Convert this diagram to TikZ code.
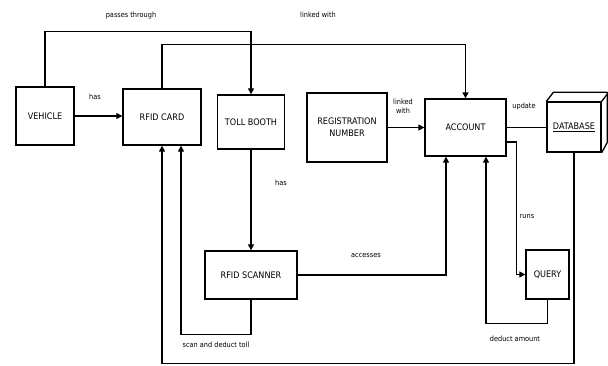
\documentclass[tikz,border=0pt]{standalone}
\usepackage{fontspec}
\setmainfont{DejaVu Sans Condensed}
\usetikzlibrary{arrows.meta}
\begin{document}
\begin{tikzpicture}[x=1pt,y=-1pt,
  box/.style={draw, line width=1.3pt, inner sep=0pt, align=center, font=\fontsize{9}{12}\selectfont},
  lbl/.style={font=\fontsize{7.3}{8.5}\selectfont, inner sep=0pt, align=center},
  con/.style={line width=1.1pt},
  arr/.style={con, -{Triangle[length=6pt,width=6pt]}}]
\useasboundingbox (0,0) rectangle (608,366);
% nodes
\node[box, minimum width=58pt, minimum height=58pt] (veh) at (45,116) {VEHICLE};
\node[box, minimum width=78pt, minimum height=56pt] (card) at (162,117) {RFID CARD};
\node[box, minimum width=67pt, minimum height=54pt] (toll) at (251,122) {TOLL BOOTH};
\node[box, minimum width=80pt, minimum height=69pt] (reg) at (347,127.5) {REGISTRATION\\NUMBER};
\node[box, minimum width=81pt, minimum height=57pt] (acc) at (465.5,127.5) {ACCOUNT};
\node[box, minimum width=54pt, minimum height=50pt] (db) at (574,127) {\underline{DATABASE}};
\draw[line width=1.3pt, line join=round] (db.north west) -- ++(7,-9) -- ++(54,0) -- ++(0,50) -- (db.south east);
\draw[line width=1.3pt] (db.north east) -- ++(7,-9);
\node[box, minimum width=92pt, minimum height=48pt] (scan) at (251,275) {RFID SCANNER};
\node[box, minimum width=43pt, minimum height=49pt] (query) at (547.5,274.5) {QUERY};
% connectors
\draw[arr] (veh.east) -- (veh.east -| card.west);
\node[lbl] (l1) at (95,97) {has};
\draw[arr] (veh.north) -- ++(0,-55) -| (toll.north);
\node[lbl] (l2) at (131,15) {passes through};
\draw[arr] (card.north) -- ++(0,-44) -| (acc.north);
\node[lbl] (l3) at (318,15) {linked with};
\draw[arr] (reg.east) -- (acc.west);
\node[lbl] (l4) at (403,106) {linked\\with};
\draw[con] (acc.east) -- (acc.east -| db.west);
\node[lbl] (l5) at (524,106) {update};
\draw[arr] (toll.south) -- (scan.north);
\node[lbl] (l6) at (281,183) {has};
\draw[arr] (scan.east) -| ([xshift=-19.5pt]acc.south);
\node[lbl] (l7) at (366,256) {accesses};
\draw[arr] (scan.south) -- ++(0,35) -| ([xshift=19pt]card.south);
\node[lbl] (l8) at (216,345) {scan and deduct toll};
\draw[arr] (db.south) -- ++(0,211) -| (card.south);
\draw[arr] ([yshift=-14.5pt]acc.east) -- ++(9.5,0) |- (query.west);
\node[lbl] (l9) at (527,217) {runs};
\draw[arr] (query.south) -- ++(0,24) -| ([xshift=20.5pt]acc.south);
\node[lbl] (l10) at (515,339) {deduct amount};
\end{tikzpicture}
\end{document}
